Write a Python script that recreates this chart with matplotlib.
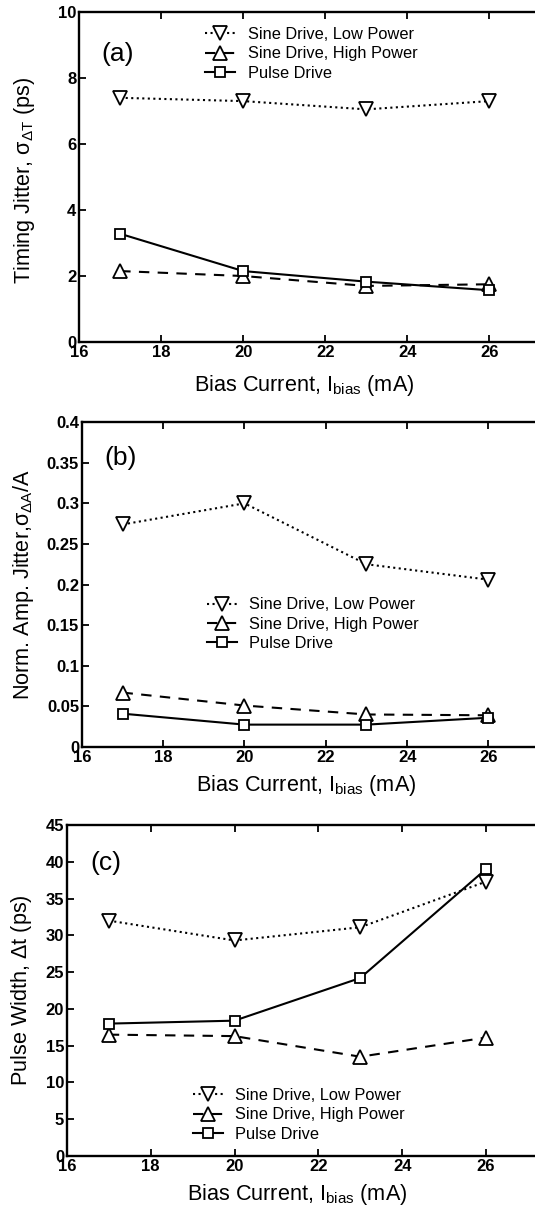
import matplotlib
matplotlib.use("Agg")
import matplotlib.pyplot as plt

plt.rcParams['font.family'] = ['Liberation Sans', 'DejaVu Sans']
plt.rcParams['mathtext.fontset'] = 'custom'
plt.rcParams['mathtext.rm'] = 'Liberation Sans'
plt.rcParams['mathtext.it'] = 'Liberation Sans'

# bias current (mA)
bias = [17, 20, 23, 26]

# (a) timing jitter, ps
jit_low = [7.4, 7.3, 7.05, 7.3]
jit_high = [2.15, 2.0, 1.7, 1.75]
jit_pulse = [3.28, 2.15, 1.83, 1.57]

# (b) normalised amplitude jitter
amp_low = [0.274, 0.300, 0.225, 0.206]
amp_high = [0.067, 0.051, 0.040, 0.039]
amp_pulse = [0.041, 0.0275, 0.0275, 0.036]

# (c) pulse width, ps
pw_low = [32.0, 29.3, 31.1, 37.3]
pw_high = [16.5, 16.3, 13.5, 16.1]
pw_pulse = [18.0, 18.4, 24.2, 39.0]

series_labels = ['Sine Drive, Low Power', 'Sine Drive, High Power', 'Pulse Drive']

fig = plt.figure(figsize=(5.35, 12.12), dpi=100)

panels = [
    dict(rect=[0.148, 0.7178, 0.9196, 0.2723], data=(jit_low, jit_high, jit_pulse),
         ylim=(0, 10), yticks=[0, 2, 4, 6, 8, 10],
         ylabel=r'Timing Jitter, $\mathregular{\sigma_{\Delta T}}$ (ps)', tag='(a)',
         tagpos=(0.045, 0.874), legpos=(0.256, 0.873),
         ylab_xy=(-0.085, 0.49), xlab_xy=(0.457, -0.094)),
    dict(rect=[0.153, 0.3837, 0.912, 0.268], data=(amp_low, amp_high, amp_pulse),
         ylim=(0, 0.4), yticks=[0, 0.05, 0.1, 0.15, 0.2, 0.25, 0.3, 0.35, 0.4],
         ylabel=r'Norm. Amp. Jitter,$\mathregular{\sigma_{\Delta A}}$/A', tag='(b)',
         tagpos=(0.047, 0.889), legpos=(0.256, 0.378),
         ylab_xy=(-0.094, 0.50), xlab_xy=(0.459, -0.08)),
    dict(rect=[0.125, 0.0462, 0.940, 0.2731], data=(pw_low, pw_high, pw_pulse),
         ylim=(0, 45), yticks=[0, 5, 10, 15, 20, 25, 30, 35, 40, 45],
         ylabel=r'Pulse Width, $\Delta$t (ps)', tag='(c)',
         tagpos=(0.046, 0.885), legpos=(0.25, 0.124),
         ylab_xy=(-0.066, 0.50), xlab_xy=(0.457, -0.079)),
]

styles = [
    dict(ls=':', marker='v'),
    dict(ls=(0, (5, 4)), marker='^'),
    dict(ls='-', marker='s'),
]

for p in panels:
    ax = fig.add_axes(p['rect'])
    handles = []
    for y, st, lab in zip(p['data'], styles, series_labels):
        ms = 7.5 if st['marker'] == 's' else 10
        h, = ax.plot(bias, y, color='black', lw=1.5, linestyle=st['ls'],
                     marker=st['marker'], ms=ms, mfc='white', mec='black', mew=1.3,
                     label=lab)
        handles.append(h)
    ax.set_xlim(16, 28)
    ax.set_ylim(*p['ylim'])
    ax.set_xticks([16, 18, 20, 22, 24, 26])
    ax.set_yticks(p['yticks'])
    ax.set_yticklabels(['{:g}'.format(v) for v in p['yticks']])
    ax.tick_params(direction='in', length=5, width=1.3, top=True, right=True,
                   labelsize=12, pad=2)
    for lbl in ax.get_xticklabels() + ax.get_yticklabels():
        lbl.set_fontweight('bold')
    for s in ax.spines.values():
        s.set_linewidth(1.7)
    ax.set_xlabel(r'Bias Current, I$_{\mathregular{bias}}$ (mA)', fontsize=15.6)
    ax.xaxis.set_label_coords(*p['xlab_xy'])
    ax.set_ylabel(p['ylabel'], fontsize=15.6)
    ax.yaxis.set_label_coords(*p['ylab_xy'])
    ax.text(p['tagpos'][0], p['tagpos'][1], p['tag'], transform=ax.transAxes,
            fontsize=19, va='center', ha='left')
    ax.legend(handles=handles, loc='center left', bbox_to_anchor=p['legpos'],
              frameon=False, fontsize=11.8, handlelength=1.85, handletextpad=0.75,
              labelspacing=0.27, borderpad=0, borderaxespad=0)

fig.savefig('out.png', dpi=100)
